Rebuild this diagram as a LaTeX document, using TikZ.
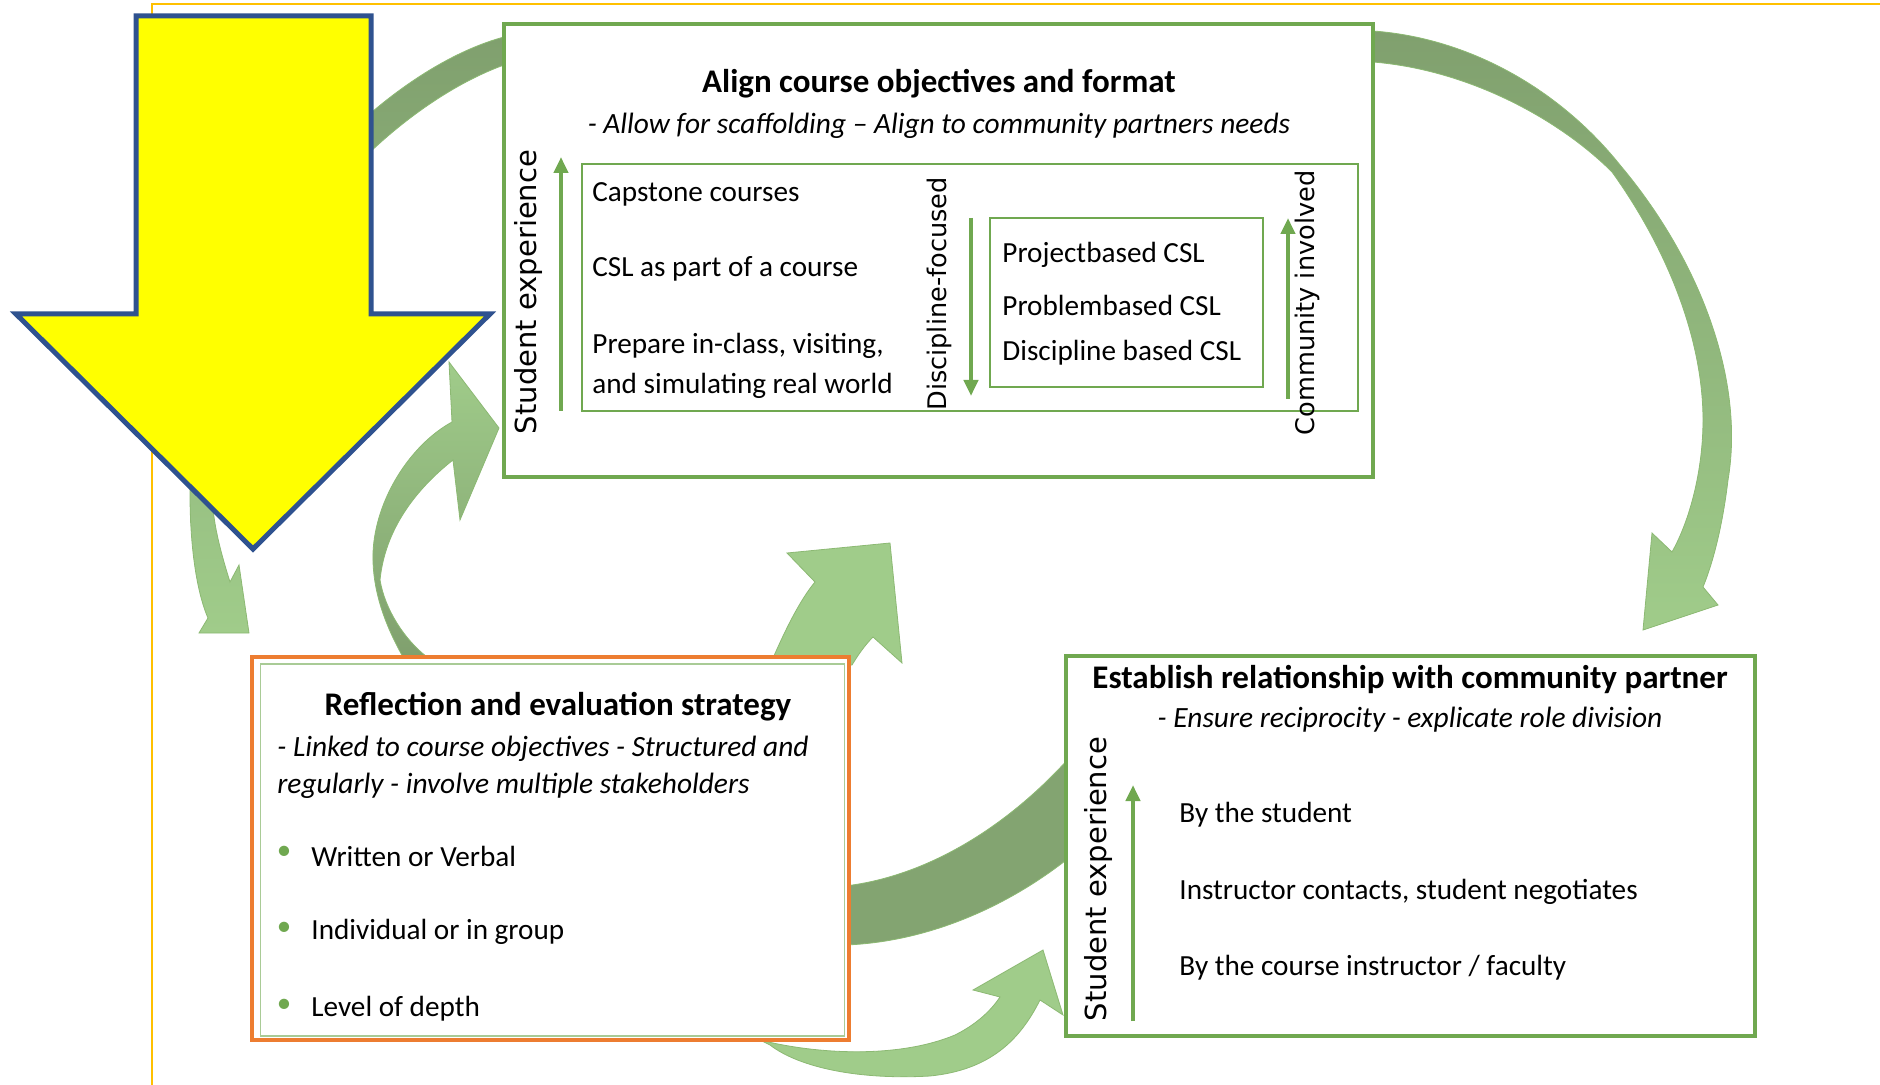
\documentclass[tikz,border=0pt]{standalone}
\usepackage{fontspec}
\setmainfont{Carlito}
\newfontfamily\sidefont{DejaVu Sans}
\usepackage{tikz}
\usetikzlibrary{arrows.meta}

\definecolor{boxgreen}{RGB}{112,168,80}
\definecolor{lightgreen}{RGB}{160,204,138}
\definecolor{darkgreen}{RGB}{128,160,110}
\definecolor{edgegreen}{RGB}{140,185,115}
\definecolor{framegold}{RGB}{255,192,0}
\definecolor{strategyorange}{RGB}{237,125,49}
\definecolor{bigyellow}{RGB}{255,255,0}
\definecolor{bigblue}{RGB}{47,82,143}

\tikzset{
  stagebox/.style={draw=boxgreen, line width=1.6pt, fill=white},
  subbox/.style={draw=boxgreen, line width=0.8pt},
  headtext/.style={font=\fontsize{16.5}{20}\selectfont\bfseries, inner sep=0pt},
  subtext/.style={font=\fontsize{14.7}{19}\selectfont\itshape, inner sep=0pt},
  itemtext/.style={font=\fontsize{14.6}{20}\selectfont, inner sep=0pt, anchor=west},
  sidetext/.style={font=\sidefont\fontsize{14.5}{18}\selectfont, rotate=90, inner sep=0pt},
  smallside/.style={sidetext, font=\sidefont\fontsize{12.8}{16}\selectfont},
  scalearrow/.style={draw=boxgreen, line width=2pt, -{Triangle[length=8pt,width=7pt]}},
  ribbon/.style={draw=edgegreen, line width=0.4pt},
}

\begin{document}
\begin{tikzpicture}[x=0.5pt,y=-0.5pt]
\useasboundingbox (0,0) rectangle (1880,1085);
% slide frame
\draw[framegold, line width=1pt] (152,1085) -- (152,4) -- (1880,4);

% curved arrows (behind the boxes)
\shadedraw[ribbon, top color=darkgreen, bottom color=lightgreen]
  (504,37) .. controls (380,70) and (190,250) .. (190,493)
  .. controls (190,560) and (200,600) .. (208,618) -- (199,633) -- (249,633) -- (239,565) -- (230,582)
  .. controls (220,550) and (212,520) .. (212,490)
  .. controls (215,280) and (380,110) .. (504,65) -- cycle;
\shadedraw[ribbon, top color=darkgreen, bottom color=lightgreen]
  (1373,31) .. controls (1470,38) and (1560,90) .. (1620,165)
  .. controls (1700,260) and (1745,380) .. (1728,480)
  .. controls (1722,530) and (1712,565) .. (1703,587) -- (1718,605) -- (1643,630) -- (1652,533) -- (1672,552)
  .. controls (1690,520) and (1703,470) .. (1703,420)
  .. controls (1703,340) and (1668,250) .. (1612,172)
  .. controls (1560,120) and (1470,70) .. (1373,62) -- cycle;
\shadedraw[ribbon, top color=lightgreen, bottom color=darkgreen]
  (403,657) .. controls (385,625) and (372,590) .. (373,553)
  .. controls (375,500) and (410,445) .. (452,422) -- (449,362) -- (499,428) -- (460,520) -- (453,460)
  .. controls (415,490) and (385,530) .. (380,580)
  .. controls (385,610) and (405,640) .. (427,657) -- cycle;
\filldraw[ribbon, fill=lightgreen]
  (770,665) .. controls (785,630) and (800,600) .. (815,582) -- (787,553) -- (890,543) -- (902,663) -- (873,637)
  .. controls (865,645) and (858,655) .. (852,665) -- cycle;
\filldraw[ribbon, fill=darkgreen!90!lightgreen]
  (845,886) .. controls (930,876) and (1010,824) .. (1070,757) -- (1070,857)
  .. controls (1010,905) and (930,942) .. (845,945) -- cycle;
\filldraw[ribbon, fill=lightgreen]
  (760,1040) .. controls (820,1055) and (900,1058) .. (955,1035)
  .. controls (975,1025) and (990,1012) .. (1000,997) -- (973,990) -- (1043,950) -- (1063,1015) -- (1040,1000)
  .. controls (1020,1040) and (990,1070) .. (930,1076)
  .. controls (860,1080) and (800,1068) .. (770,1045) -- cycle;

% align course objectives
\node[stagebox, minimum width=434.5pt, minimum height=226.5pt] (align) at (938.5,250.5) {};
\node[headtext] (alignhead) at (939,84) {Align course objectives and format};
\node[subtext] (alignsub) at (939,126) {- Allow for scaffolding -- Align to community partners needs};
\node[subbox, minimum width=388pt, minimum height=123.5pt] (formats) at (970,287.5) {};
\node[sidetext] (studexp) at (528,292) {Student experience};
\coordinate (studlow) at (561,411);
\coordinate (studhigh) at (561,157);
\draw[scalearrow] (studlow) -- (studhigh);
\node[itemtext] (capstone) at (592,194) {Capstone courses};
\node[itemtext] (partcourse) at (592,269) {CSL as part of a course};
\node[itemtext, align=left] (prepare) at (592,366) {Prepare in-class, visiting,\\and simulating real world};
\node[smallside] (discfocus) at (939,294) {Discipline-focused};
\coordinate (disctop) at (971,218);
\coordinate (discbot) at (971,396);
\draw[scalearrow] (disctop) -- (discbot);
\node[subbox, minimum width=136.5pt, minimum height=84.5pt] (csltypes) at (1126.5,302.5) {};
\node[itemtext] (project) at (1002,255) {Projectbased CSL};
\node[itemtext] (problem) at (1002,305) {Problembased CSL};
\node[itemtext] (discbased) at (1002,353) {Discipline based CSL};
\node[smallside] (comminv) at (1307,303) {Community involved};
\coordinate (commlow) at (1288,399);
\coordinate (commhigh) at (1288,218);
\draw[scalearrow] (commlow) -- (commhigh);

% reflection and evaluation
\node[stagebox, draw=strategyorange, line width=2pt, minimum width=298.5pt, minimum height=191.5pt] (reflect) at (550.5,848.5) {};
\node[subbox, draw=boxgreen!60, minimum width=292pt, minimum height=186pt] (reflectin) at (552.5,850) {};
\node[headtext] (reflecthead) at (558,707) {Reflection and evaluation strategy};
\node[subtext, anchor=west] (reflectsub) at (277,749) {- Linked to course objectives - Structured and};
\node[subtext, anchor=west] (reflectsubb) at (277,786) {regularly - involve multiple stakeholders};
\foreach \y/\txt [count=\i] in {856/Written or Verbal, 932/Individual or in group, 1009/Level of depth}{
  \node[text=boxgreen, font=\fontsize{14.5}{20}\selectfont, inner sep=0pt] (dot\i) at (284,\y-3) {\textbullet};
  \node[itemtext] (reflectitem\i) at (311,\y) {\txt};
}

% community partner
\node[stagebox, minimum width=344.5pt, minimum height=190pt] (partner) at (1410.5,846) {};
\node[headtext] (partnerhead) at (1410,679) {Establish relationship with community partner};
\node[subtext] (partnersub) at (1410,720) {- Ensure reciprocity - explicate role division};
\node[sidetext] (studexpb) at (1098,879) {Student experience};
\coordinate (partlow) at (1133,1021);
\coordinate (parthigh) at (1133,785);
\draw[scalearrow] (partlow) -- (parthigh);
\node[itemtext] (bystudent) at (1179,815) {By the student};
\node[itemtext] (negotiate) at (1179,892) {Instructor contacts, student negotiates};
\node[itemtext] (byfaculty) at (1179,968) {By the course instructor / faculty};

% big yellow arrow on top
\filldraw[fill=bigyellow, draw=bigblue, line width=2.5pt]
  (136,16) -- (371,16) -- (371,314) -- (490,314) -- (253,549) -- (16,314) -- (136,314) -- cycle;
\end{tikzpicture}
\end{document}
